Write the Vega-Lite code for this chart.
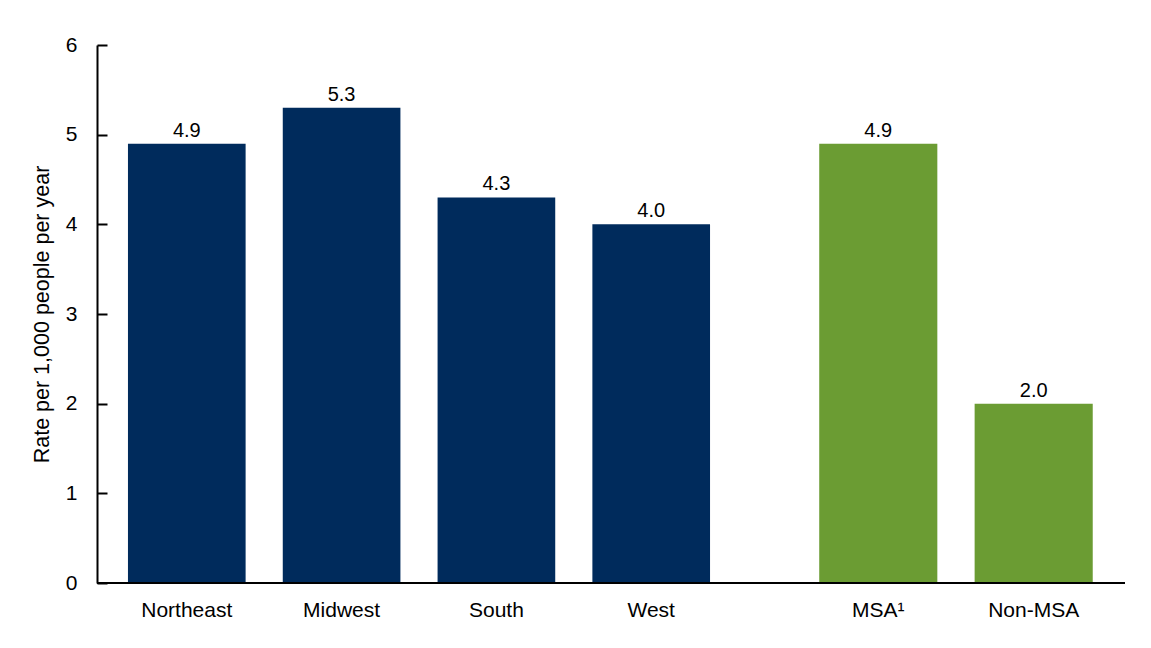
{
  "$schema": "https://vega.github.io/schema/vega-lite/v6.json",
  "padding": {"left": 31, "top": 34, "right": 26, "bottom": 30},
  "background": "#ffffff",
  "data": {
    "values": [
      {"group": "Region", "category": "Northeast", "rate": 4.9},
      {"group": "Region", "category": "Midwest", "rate": 5.3},
      {"group": "Region", "category": "South", "rate": 4.3},
      {"group": "Region", "category": "West", "rate": 4.0},
      {"group": "Urbanization", "category": "MSA¹", "rate": 4.9},
      {"group": "Urbanization", "category": "Non-MSA", "rate": 2.0}
    ]
  },
  "config": {
    "font": "Liberation Sans",
    "view": {"stroke": null},
    "axis": {
      "grid": false,
      "domainColor": "#000000",
      "domainWidth": 2,
      "tickColor": "#000000",
      "tickWidth": 2,
      "labelColor": "#000000",
      "labelFont": "Liberation Sans",
      "labelFontSize": 21,
      "titleFont": "Liberation Sans",
      "titleFontSize": 21.5,
      "titleFontWeight": "normal",
      "titleColor": "#000000"
    },
    "text": {"font": "Liberation Sans", "fontSize": 20, "color": "#000000"}
  },
  "bounds": "flush",
  "spacing": 0,
  "resolve": {"scale": {"y": "shared"}},
  "hconcat": [
    {
      "width": 644,
      "height": 538,
      "transform": [{"filter": "datum.group === 'Region'"}],
      "encoding": {
        "y": {
          "field": "rate",
          "type": "quantitative",
          "scale": {"domain": [0, 6], "nice": false},
          "axis": {
            "title": "Rate per 1,000 people per year",
            "values": [0, 1, 2, 3, 4, 5, 6],
            "tickSize": -10,
            "labelPadding": 30,
            "titlePadding": 12
          }
        }
      },
      "layer": [
        {
          "mark": {"type": "bar", "color": "#002b5c"},
          "encoding": {
            "x": {
              "field": "category",
              "type": "nominal",
              "sort": null,
              "scale": {"paddingInner": 0.24, "paddingOuter": 0.2},
              "axis": {"title": null, "labelAngle": 0, "ticks": false, "domain": false, "labelPadding": 16}
            }
          }
        },
        {
          "mark": {"type": "text", "baseline": "alphabetic", "dy": -7},
          "encoding": {
            "x": {"field": "category", "type": "nominal", "sort": null},
            "text": {"field": "rate", "type": "quantitative", "format": ".1f"}
          }
        },
        {
          "mark": {"type": "rule", "color": "#000000", "strokeWidth": 2},
          "encoding": {"y": {"datum": 0}}
        }
      ]
    },
    {
      "width": 384,
      "height": 538,
      "transform": [{"filter": "datum.group === 'Urbanization'"}],
      "encoding": {
        "y": {
          "field": "rate",
          "type": "quantitative",
          "scale": {"domain": [0, 6], "nice": false},
          "axis": null
        }
      },
      "layer": [
        {
          "mark": {"type": "bar", "color": "#6b9c33"},
          "encoding": {
            "x": {
              "field": "category",
              "type": "nominal",
              "sort": null,
              "scale": {"paddingInner": 0.24, "paddingOuter": 0.3555, "align": 0.708},
              "axis": {"title": null, "labelAngle": 0, "ticks": false, "domain": false, "labelPadding": 16}
            }
          }
        },
        {
          "mark": {"type": "text", "baseline": "alphabetic", "dy": -7},
          "encoding": {
            "x": {"field": "category", "type": "nominal", "sort": null},
            "text": {"field": "rate", "type": "quantitative", "format": ".1f"}
          }
        },
        {
          "mark": {"type": "rule", "color": "#000000", "strokeWidth": 2},
          "encoding": {"y": {"datum": 0}}
        }
      ]
    }
  ]
}
